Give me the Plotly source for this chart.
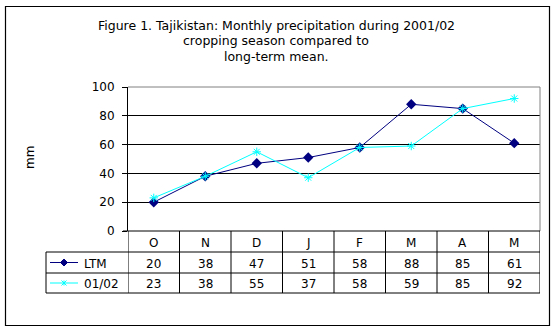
import plotly.graph_objects as go

months = ["O", "N", "D", "J", "F", "M", "A", "M"]
ltm = [20, 38, 47, 51, 58, 88, 85, 61]
s0102 = [23, 38, 55, 37, 58, 59, 85, 92]
series_names = ["LTM", "01/02"]
y_ticks = [0, 20, 40, 60, 80, 100]

NAVY = "#000080"
CYAN = "#00FFFF"
FONT = "DejaVu Sans, Verdana, sans-serif"
FS = 12

W, H = 557, 333
L, R, T, B = 128, 540, 87, 231  # plot area in px
pw, ph = R - L, B - T


def px(x):
    return (x - L) / pw


def py(y):
    return (B - y) / ph


xs = list(range(len(months)))

fig = go.Figure()
fig.add_trace(go.Scatter(
    x=xs, y=ltm, mode="lines+markers", name=series_names[0],
    line=dict(color=NAVY, width=1),
    marker=dict(symbol="diamond", size=8, color=NAVY),
    cliponaxis=False, showlegend=False))
fig.add_trace(go.Scatter(
    x=xs, y=s0102, mode="lines+markers", name=series_names[1],
    line=dict(color=CYAN, width=1),
    marker=dict(symbol="asterisk-open", size=7, color=CYAN, line=dict(color=CYAN, width=1)),
    cliponaxis=False, showlegend=False))

fig.update_layout(
    width=W, height=H,
    margin=dict(l=L, r=W - R, t=T, b=H - B, pad=0),
    paper_bgcolor="white", plot_bgcolor="white",
    font=dict(family=FONT, size=FS, color="black"),
    showlegend=False,
    xaxis=dict(range=[-0.5, len(months) - 0.5], showgrid=False, zeroline=False,
               showticklabels=False, ticks="", showline=False, fixedrange=True),
    yaxis=dict(range=[0, 100], tickvals=y_ticks, ticks="outside", ticklen=5,
               tickcolor="black", showline=True, linecolor="black", linewidth=1,
               showgrid=True, gridcolor="black", gridwidth=1, zeroline=False,
               ticklabelstandoff=5, tickfont=dict(size=FS), fixedrange=True),
)

shapes = []
# outer frame
shapes.append(dict(type="rect", xref="paper", yref="paper",
                   x0=px(5.5), x1=px(549.5), y0=py(6.5), y1=py(325.5),
                   line=dict(color="black", width=1.2), layer="below"))
# plot area border (gray) top and right
shapes.append(dict(type="line", xref="paper", yref="paper", x0=0, x1=1, y0=1, y1=1,
                   line=dict(color="#808080", width=1)))
shapes.append(dict(type="line", xref="paper", yref="paper", x0=1, x1=1, y0=0, y1=1,
                   line=dict(color="#808080", width=1)))

row_y = [231, 252, 273, 293]
legend_left = 46
# x axis / table lines
shapes.append(dict(type="line", xref="paper", yref="paper", x0=px(123), x1=1,
                   y0=0, y1=0, line=dict(color="black", width=1)))
for yy in row_y[1:]:
    shapes.append(dict(type="line", xref="paper", yref="paper", x0=px(legend_left), x1=1,
                       y0=py(yy), y1=py(yy), line=dict(color="black", width=1)))
for k in range(len(months) + 1):
    shapes.append(dict(type="line", xref="x", yref="paper", x0=k - 0.5, x1=k - 0.5,
                       y0=0, y1=py(row_y[-1]), line=dict(color="black", width=1)))
shapes.append(dict(type="line", xref="paper", yref="paper", x0=px(legend_left), x1=px(legend_left),
                   y0=py(row_y[1]), y1=py(row_y[-1]), line=dict(color="black", width=1)))

annotations = []
# title
title_lines = ["Figure 1. Tajikistan: Monthly precipitation during 2001/02",
               "cropping season compared to",
               "long-term mean."]
for i, t in enumerate(title_lines):
    annotations.append(dict(text=t, xref="paper", yref="paper", x=px(276), y=py(25 + i * 15.8),
                            showarrow=False, xanchor="center", yanchor="middle",
                            font=dict(size=12.5)))
# y axis title
annotations.append(dict(text="mm", xref="paper", yref="paper", x=px(30), y=py(158),
                        showarrow=False, textangle=-90, xanchor="center", yanchor="middle",
                        font=dict(size=FS)))
# header row
for k, m in enumerate(months):
    annotations.append(dict(text=m, xref="x", yref="paper", x=k, y=py((row_y[0] + row_y[1]) / 2 + 1),
                            showarrow=False, xanchor="center", yanchor="middle"))


def diamond_path(cx, cy, r):
    pts = [(cx, cy - r), (cx + r, cy), (cx, cy + r), (cx - r, cy)]
    return "M " + " L ".join(f"{px(a):.5f},{py(b):.5f}" for a, b in pts) + " Z"


def star_path(cx, cy, r):
    segs = [((cx - r, cy - r), (cx + r, cy + r)), ((cx - r, cy + r), (cx + r, cy - r)),
            ((cx, cy - r), (cx, cy + r))]
    return " ".join(f"M {px(a[0]):.5f},{py(a[1]):.5f} L {px(b[0]):.5f},{py(b[1]):.5f}" for a, b in segs)


# data rows
for r, (vals, name, col) in enumerate([(ltm, series_names[0], NAVY),
                                       (s0102, series_names[1], CYAN)]):
    yc = (row_y[r + 1] + row_y[r + 2]) / 2 + 1
    for k, v in enumerate(vals):
        annotations.append(dict(text=str(v), xref="x", yref="paper", x=k, y=py(yc),
                                showarrow=False, xanchor="center", yanchor="middle"))
    annotations.append(dict(text=name, xref="paper", yref="paper", x=px(82), y=py(yc),
                            showarrow=False, xanchor="left", yanchor="middle"))
    shapes.append(dict(type="line", xref="paper", yref="paper", x0=px(50), x1=px(78),
                       y0=py(yc - 1), y1=py(yc - 1), line=dict(color=col, width=1)))
    if r == 0:
        shapes.append(dict(type="path", xref="paper", yref="paper", path=diamond_path(64, yc - 1, 3.5),
                           fillcolor=col, line=dict(color=col, width=1)))
    else:
        shapes.append(dict(type="path", xref="paper", yref="paper", path=star_path(64, yc - 1, 2.5),
                           line=dict(color=col, width=1)))

fig.update_layout(shapes=shapes, annotations=annotations)

fig.write_html("out.html")
